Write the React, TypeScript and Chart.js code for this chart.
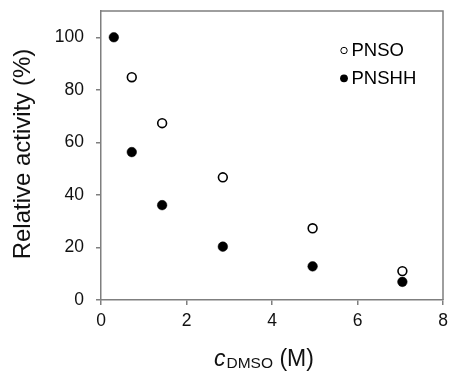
import React, { useEffect, useRef } from "react";
import { Chart, registerables } from "chart.js";
Chart.register(...registerables);

const pnsoX = [0.72, 1.43, 2.85, 4.95, 7.05];
const pnsoY = [84.8, 67.3, 46.7, 27.3, 11];
const pnshhX = [0.3, 0.72, 1.43, 2.85, 4.95, 7.05];
const pnshhY = [100, 56.3, 36.1, 20.3, 12.8, 6.9];
const xTicks = [0, 2, 4, 6, 8];
const yTicks = [0, 20, 40, 60, 80, 100];
const seriesNames = ["PNSO", "PNSHH"];
const yTitle = "Relative activity (%)";
const xTitleMain = "c";
const xTitleSub = "DMSO";
const xTitleUnit = " (M)";

const FONT = "'Liberation Sans', Arial, sans-serif";
const AXIS = "#7f7f7f";

const decorPlugin = {
  id: "decor",
  afterDraw(chart: any) {
    const { ctx, chartArea } = chart;
    ctx.save();
    // frame top and right
    ctx.strokeStyle = AXIS;
    ctx.lineWidth = 1.5;
    ctx.beginPath();
    ctx.moveTo(chartArea.left, chartArea.top);
    ctx.lineTo(chartArea.right, chartArea.top);
    ctx.lineTo(chartArea.right, chartArea.bottom);
    ctx.stroke();

    // legend
    ctx.font = `18.5px ${FONT}`;
    ctx.textBaseline = "middle";
    ctx.textAlign = "left";
    ctx.beginPath();
    ctx.arc(344, 50.5, 3.2, 0, Math.PI * 2);
    ctx.fillStyle = "#fff";
    ctx.fill();
    ctx.strokeStyle = "#000";
    ctx.lineWidth = 1;
    ctx.stroke();
    ctx.fillStyle = "#000";
    ctx.fillText(seriesNames[0], 351.5, 51);
    ctx.beginPath();
    ctx.arc(344, 78.3, 3.9, 0, Math.PI * 2);
    ctx.fill();
    ctx.fillText(seriesNames[1], 351.5, 78.8);

    // y title
    ctx.save();
    ctx.translate(23, 154);
    ctx.rotate(-Math.PI / 2);
    ctx.font = `24px ${FONT}`;
    ctx.textAlign = "center";
    ctx.textBaseline = "middle";
    ctx.fillStyle = "#111";
    ctx.fillText(yTitle, 0, 0);
    ctx.restore();

    // x title
    ctx.textBaseline = "alphabetic";
    ctx.textAlign = "left";
    ctx.fillStyle = "#111";
    let x = 214;
    ctx.font = `italic 23px ${FONT}`;
    ctx.fillText(xTitleMain, x, 366);
    x += ctx.measureText(xTitleMain).width + 1;
    ctx.font = `15.5px ${FONT}`;
    ctx.fillText(xTitleSub, x, 368);
    x += ctx.measureText(xTitleSub).width;
    ctx.font = `23px ${FONT}`;
    ctx.fillText(xTitleUnit, x, 366);
    ctx.restore();
  },
};

const zeroPad = (s: any) => {
  s.paddingTop = 0;
  s.paddingBottom = 0;
  s.paddingLeft = 0;
  s.paddingRight = 0;
};

export default function App() {
  const ref = useRef<HTMLCanvasElement>(null);
  useEffect(() => {
    if (!ref.current) return;
    const chart = new Chart(ref.current, {
      type: "scatter",
      data: {
        datasets: [
          {
            label: seriesNames[0],
            data: pnsoX.map((x, i) => ({ x, y: pnsoY[i] })),
            pointRadius: 4.4,
            pointBackgroundColor: "#fff",
            pointBorderColor: "#000",
            pointBorderWidth: 1.6,
          },
          {
            label: seriesNames[1],
            data: pnshhX.map((x, i) => ({ x, y: pnshhY[i] })),
            pointRadius: 4.8,
            pointBackgroundColor: "#000",
            pointBorderColor: "#000",
            pointBorderWidth: 0.5,
          },
        ],
      },
      options: {
        responsive: false,
        animation: false,
        layout: { padding: { left: 0, top: 11, right: 8, bottom: 0 } },
        plugins: { legend: { display: false }, tooltip: { enabled: false } },
        scales: {
          x: {
            type: "linear",
            min: 0,
            max: 8,
            afterBuildTicks: (s: any) => {
              s.ticks = xTicks.map((v) => ({ value: v }));
            },
            afterFit: (s: any) => {
              s.height = 75;
              zeroPad(s);
            },
            ticks: { color: "#111", font: { family: FONT, size: 17.5 }, padding: 6, maxRotation: 0 },
            grid: { drawOnChartArea: false, drawTicks: true, tickLength: 5, color: AXIS, lineWidth: 1.5 },
            border: { display: true, color: AXIS, width: 1.5 },
          },
          y: {
            type: "linear",
            min: 0,
            max: 110,
            afterBuildTicks: (s: any) => {
              s.ticks = yTicks.map((v) => ({ value: v }));
            },
            afterFit: (s: any) => {
              s.width = 101;
              zeroPad(s);
            },
            ticks: { color: "#111", font: { family: FONT, size: 17.5 }, padding: 12 },
            grid: { drawOnChartArea: false, drawTicks: true, tickLength: 5, color: AXIS, lineWidth: 1.5 },
            border: { display: true, color: AXIS, width: 1.5 },
          },
        },
      },
      plugins: [decorPlugin],
    } as any);
    return () => chart.destroy();
  }, []);
  return (
    <div style={{ position: "fixed", left: 0, top: 0, width: 451, height: 375, background: "#fff" }}>
      <canvas ref={ref} width={451} height={375} />
    </div>
  );
}
